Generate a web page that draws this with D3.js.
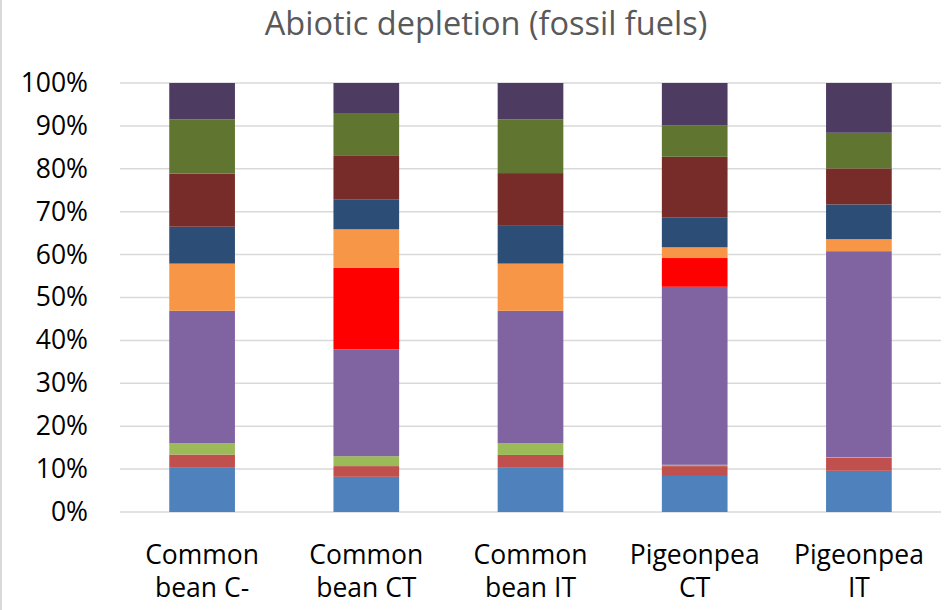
<!DOCTYPE html>
<html>
<head>
<meta charset="utf-8">
<script src="https://cdn.jsdelivr.net/npm/d3@7"></script>
<style>
  html, body { margin: 0; padding: 0; background: #fff; }
  svg { display: block; }
  text { font-family: "Open Sans", sans-serif; }
</style>
</head>
<body>
<svg id="chart" width="945" height="610"></svg>
<script>
// ---- Data ----
const title = "Abiotic depletion (fossil fuels)";
const categories = ["Common bean C-", "Common bean CT", "Common bean IT", "Pigeonpea CT", "Pigeonpea IT"];
const seriesNames = ["Series 1", "Series 2", "Series 3", "Series 4", "Series 5",
                     "Series 6", "Series 7", "Series 8", "Series 9", "Series 10"];
// values per series (percent share), one value per category
const s1  = [10.3,  8.2, 10.3,  8.4,  9.6];
const s2  = [ 3.1,  2.5,  3.0,  2.3,  3.0];
const s3  = [ 2.6,  2.3,  2.7,  0.3,  0.2];
const s4  = [30.9, 24.9, 30.9, 41.5, 48.0];
const s5  = [ 0.0, 19.0,  0.0,  6.7,  0.0];
const s6  = [11.0,  9.0, 11.0,  2.5,  2.8];
const s7  = [ 8.6,  7.0,  8.8,  7.0,  8.1];
const s8  = [12.4, 10.1, 12.3, 14.1,  8.4];
const s9  = [12.6, 10.0, 12.5,  7.3,  8.3];
const s10 = [ 8.5,  7.0,  8.5,  9.9, 11.6];
const seriesValues = [s1, s2, s3, s4, s5, s6, s7, s8, s9, s10];
const yTicks = [0, 0.1, 0.2, 0.3, 0.4, 0.5, 0.6, 0.7, 0.8, 0.9, 1.0];

const colors = ["#4F81BD", "#C0504D", "#9BBB59", "#8064A2", "#FF0000",
                "#F79646", "#2C4D75", "#772C2A", "#5F7530", "#4D3B62"];

// ---- Build table ----
const rows = categories.map((c, i) => {
  const r = { category: c };
  seriesNames.forEach((s, j) => { r[s] = seriesValues[j][i]; });
  return r;
});

const stack = d3.stack().keys(seriesNames).offset(d3.stackOffsetExpand);
const stacked = stack(rows);

// ---- Layout ----
const W = 945, H = 610;
const plot = { left: 120, right: 941, top: 83, bottom: 512 };
const FONT = "'Open Sans', sans-serif";

const svg = d3.select("#chart");

// chart area border (left edge visible)
svg.append("line")
  .attr("x1", 1).attr("x2", 1).attr("y1", 0).attr("y2", H)
  .attr("stroke", "#d9d9d9").attr("stroke-width", 2);

const x = d3.scaleBand()
  .domain(categories)
  .range([plot.left, plot.right])
  .paddingInner(0.6)
  .paddingOuter(0.3);

const y = d3.scaleLinear()
  .domain([0, 1])
  .range([plot.bottom, plot.top]);

// gridlines
svg.append("g")
  .selectAll("line")
  .data(yTicks)
  .join("line")
  .attr("x1", plot.left).attr("x2", plot.right)
  .attr("y1", d => y(d)).attr("y2", d => y(d))
  .attr("stroke", "#d9d9d9").attr("stroke-width", 1.5);

// y axis labels
const yAxis = d3.axisLeft(y)
  .tickValues(yTicks)
  .tickFormat(d3.format(".0%"))
  .tickSize(0)
  .tickPadding(0);
const yg = svg.append("g")
  .attr("transform", `translate(88,0)`)
  .call(yAxis);
yg.select(".domain").remove();
yg.selectAll("text")
  .attr("font-size", 26.5)
  .attr("fill", "#000")
  .style("font-family", FONT);

// bars
svg.append("g")
  .selectAll("g")
  .data(stacked)
  .join("g")
  .attr("fill", (d, i) => colors[i])
  .selectAll("rect")
  .data(d => d)
  .join("rect")
  .attr("x", d => x(d.data.category))
  .attr("width", x.bandwidth())
  .attr("y", d => y(d[1]))
  .attr("height", d => Math.max(0, y(d[0]) - y(d[1])));

// x axis labels (wrapped)
const xAxis = d3.axisBottom(x).tickSize(0).tickPadding(0);
const xg = svg.append("g")
  .attr("transform", `translate(0,${plot.bottom})`)
  .call(xAxis);
xg.select(".domain").remove();
xg.selectAll("text")
  .attr("font-size", 26.5)
  .attr("fill", "#000")
  .attr("y", 0)
  .attr("dy", 0)
  .style("font-family", FONT)
  .each(function(d) {
    const t = d3.select(this);
    const words = d.split(" ");
    t.text(null);
    let lines = [];
    let line = [];
    const tmp = t.append("tspan");
    words.forEach(w => {
      const trial = line.concat([w]).join(" ");
      tmp.text(trial);
      if (tmp.node().getComputedTextLength() > 145 && line.length) {
        lines.push(line.join(" "));
        line = [w];
      } else {
        line.push(w);
      }
    });
    lines.push(line.join(" "));
    tmp.remove();
    lines.forEach((l, i) => {
      t.append("tspan")
        .attr("x", 0)
        .attr("y", 52 + i * 33)
        .text(l);
    });
  });

// title
svg.append("text")
  .attr("x", 486)
  .attr("y", 35)
  .attr("text-anchor", "middle")
  .attr("font-size", 32.5)
  .attr("fill", "#595959")
  .style("font-family", FONT)
  .text(title);
</script>
</body>
</html>
